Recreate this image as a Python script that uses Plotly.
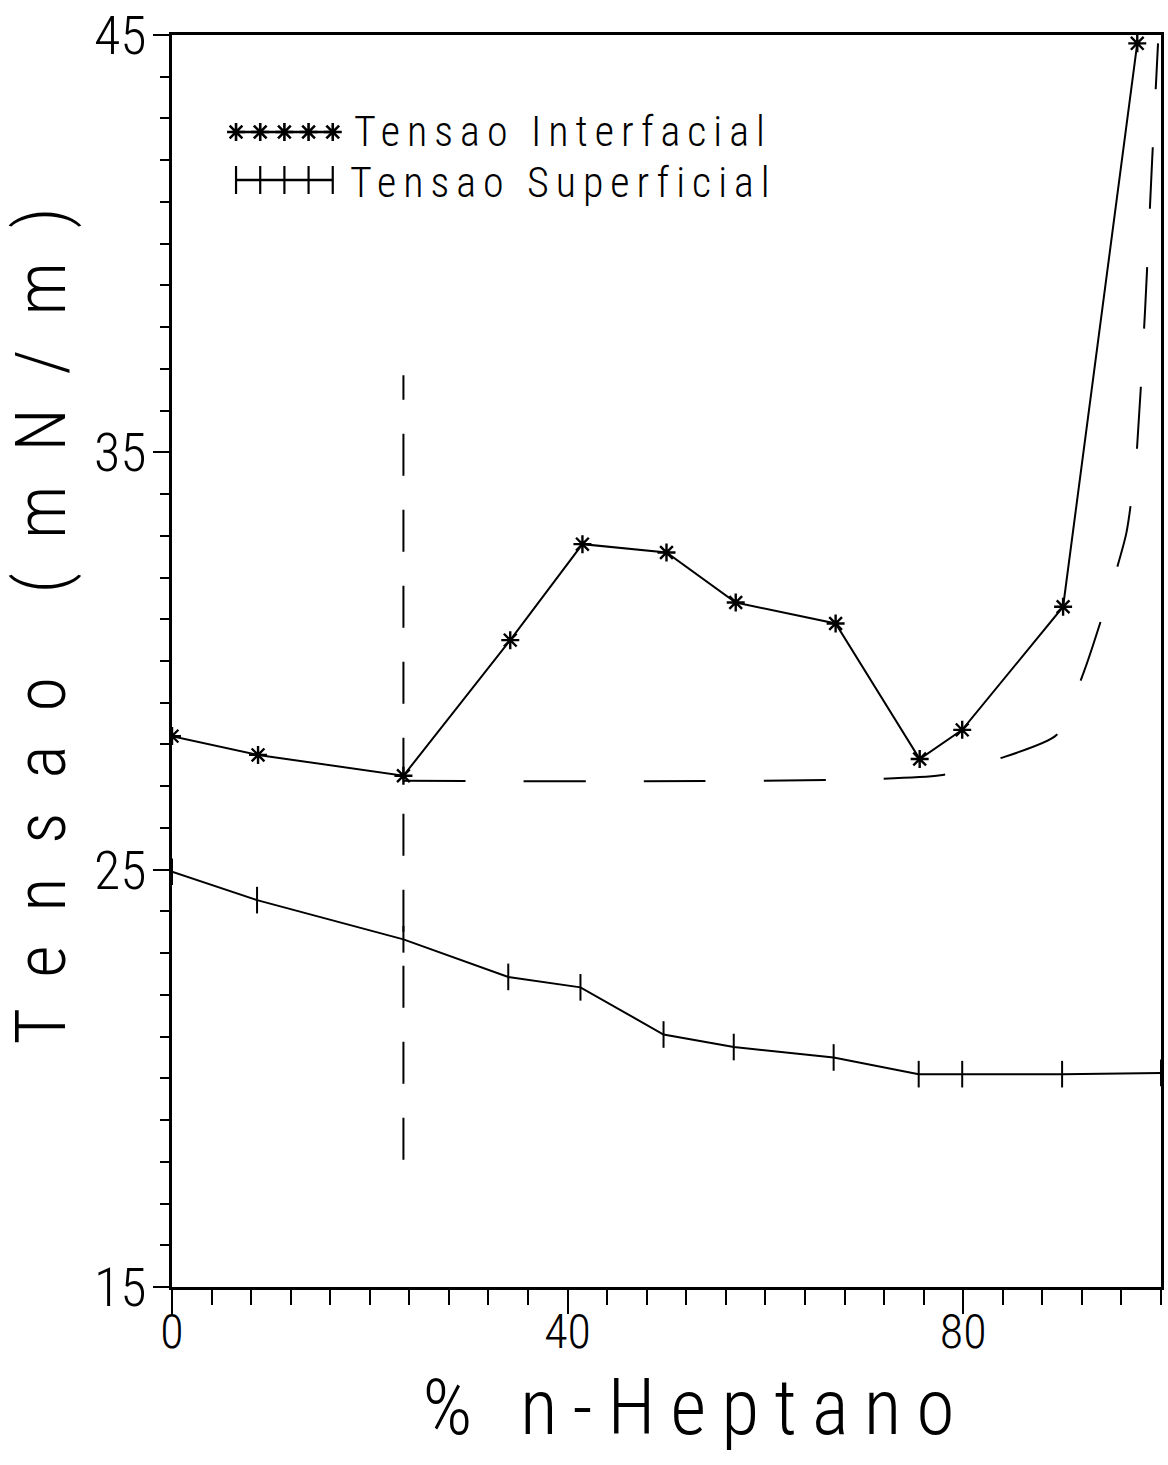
import plotly.graph_objects as go

# ---- data ----
heptano_interf = [0, 8.7, 23.4, 34.2, 41.5, 50.0, 57.0, 67.1, 75.6, 79.9, 90.1, 97.6]
tensao_interf = [28.2, 27.75, 27.25, 30.5, 32.8, 32.6, 31.4, 30.9, 27.65, 28.35, 31.3, 44.8]

heptano_sup = [0, 8.6, 23.4, 34.0, 41.3, 49.7, 56.8, 66.9, 75.5, 79.9, 90.0, 100]
tensao_sup = [24.95, 24.27, 23.33, 22.43, 22.18, 21.05, 20.75, 20.5, 20.1, 20.1, 20.1, 20.13]

# dashed guide curve
heptano_guide = [23.4, 77.7, 83.5, 89.4, 92.2, 94.5, 96.5, 97.5, 98.4, 99.1, 99.7]
tensao_guide = [27.13, 27.26, 27.65, 28.22, 29.74, 31.4, 33.07, 34.89, 38.46, 41.98, 44.8]

# dashed vertical marker line
heptano_vline = [23.4, 23.4]
tensao_vline = [18.05, 36.85]

x_ticks = [0, 40, 80]
y_ticks = [15, 25, 35, 45]

legend_names = ["Tensao Interfacial", "Tensao Superficial"]
x_title = "% n-Heptano"
y_title = "Tensao (mN/m)"

FONT = "Roboto Condensed, Liberation Sans Narrow, DejaVu Sans Condensed, DejaVu Sans"

fig = go.Figure()

fig.add_trace(go.Scatter(
    x=heptano_vline, y=tensao_vline, mode="lines",
    line=dict(color="black", width=2, dash="42px,34px"),
    showlegend=False, hoverinfo="skip"))
fig.add_trace(go.Scatter(
    x=heptano_guide, y=tensao_guide, mode="lines",
    line=dict(color="black", width=2, dash="62px,58px", shape="spline", smoothing=0.6),
    showlegend=False, hoverinfo="skip"))
fig.add_trace(go.Scatter(
    x=heptano_interf, y=tensao_interf, mode="lines+markers", name=legend_names[0],
    line=dict(color="black", width=2),
    marker=dict(symbol="asterisk-open", size=15, line=dict(color="black", width=2.4)),
    showlegend=False))
fig.add_trace(go.Scatter(
    x=heptano_sup, y=tensao_sup, mode="lines+markers", name=legend_names[1],
    line=dict(color="black", width=2),
    marker=dict(symbol="line-ns-open", size=19, line=dict(color="black", width=2)),
    showlegend=False))

# custom legend samples (five markers per row) on a hidden helper axis
sample_pos = list(range(5))
fig.add_trace(go.Scatter(
    x=sample_pos, y=[1] * 5, xaxis="x2", yaxis="y2", mode="lines+markers",
    line=dict(color="black", width=2.5), cliponaxis=False,
    marker=dict(symbol="asterisk-open", size=15, line=dict(color="black", width=2.6)),
    showlegend=False, hoverinfo="skip"))
fig.add_trace(go.Scatter(
    x=sample_pos, y=[0] * 5, xaxis="x2", yaxis="y2", mode="lines+markers",
    line=dict(color="black", width=2.5), cliponaxis=False,
    marker=dict(symbol="line-ns-open", size=20, line=dict(color="black", width=2.2)),
    showlegend=False, hoverinfo="skip"))

L, R, T, B = 172, 7, 35, 178
W, H = 1168, 1465
pw, ph = W - L - R, H - T - B

def px_x(p):
    return (p - L) / pw

def px_y(p):
    return (H - B - p) / ph

fig.update_layout(
    width=W, height=H,
    margin=dict(l=L, r=R, t=T, b=B, autoexpand=False),
    paper_bgcolor="white", plot_bgcolor="white",
    font=dict(family=FONT, color="black", weight=300),
    xaxis=dict(
        range=[0, 100], tickvals=x_ticks, ticks="outside", ticklen=24, tickwidth=2,
        tickcolor="black", showline=True, linecolor="black", linewidth=2.5, mirror=True,
        showgrid=False, zeroline=False,
        minor=dict(dtick=4, tick0=0, ticks="outside", ticklen=15, tickwidth=2, tickcolor="black", showgrid=False),
        tickfont=dict(family=FONT, size=48, weight=300),
        title=dict(text=x_title, font=dict(family=FONT, size=78, weight=300), standoff=10),
    ),
    yaxis=dict(
        range=[15, 45], tickvals=y_ticks, ticks="outside", ticklen=16, tickwidth=2,
        tickcolor="black", showline=True, linecolor="black", linewidth=2.5, mirror=True,
        showgrid=False, zeroline=False,
        minor=dict(dtick=1, tick0=15, ticks="outside", ticklen=9, tickwidth=2, tickcolor="black", showgrid=False),
        tickfont=dict(family=FONT, size=54, weight=300),
        title=dict(text=y_title, font=dict(family=FONT, size=70, weight=300), standoff=20),
    ),
    xaxis2=dict(domain=[px_x(230), px_x(340)], range=[-0.25, 4.3], visible=False, anchor="y2", fixedrange=True),
    yaxis2=dict(domain=[px_y(204), px_y(108)], range=[-0.5, 1.5], visible=False, anchor="x2", fixedrange=True),
    annotations=[
        dict(text=legend_names[0], x=px_x(563), y=px_y(132), xref="paper", yref="paper",
             xanchor="center", yanchor="middle", showarrow=False,
             font=dict(family=FONT, size=42, weight=300)),
        dict(text=legend_names[1], x=px_x(563), y=px_y(182), xref="paper", yref="paper",
             xanchor="center", yanchor="middle", showarrow=False,
             font=dict(family=FONT, size=42, weight=300)),
    ],
)

try:
    fig.update_layout(xaxis_ticklabelstandoff=-23, yaxis_ticklabelstandoff=-4)
except Exception:
    pass

post = """
var gd = document.getElementById('{plot_id}');
function sp(sel, v){ gd.querySelectorAll(sel).forEach(function(t){ t.style.letterSpacing = v; }); }
function shift(el, dx, dy){ el.setAttribute('transform', 'translate(' + dx + ',' + dy + ') ' + (el.getAttribute('transform') || '')); }
sp('.annotation-text', '7px');
var yt = gd.querySelector('.ytitle');
if (yt) { yt.style.letterSpacing = '34px'; var r = yt.getBoundingClientRect(); shift(yt, 0, 617 - (r.top + r.bottom) / 2); }
var xt = gd.querySelector('.xtitle');
if (xt) {
  xt.style.letterSpacing = '15px';
  var maxB = 0;
  gd.querySelectorAll('.xtick text').forEach(function(t){ var b = t.getBoundingClientRect().bottom; if (b > maxB) maxB = b; });
  var r2 = xt.getBoundingClientRect();
  var h = r2.bottom - r2.top;
  var top = Math.min(Math.max(1366, maxB + 2), 1464 - h);
  shift(xt, 704 - (r2.left + r2.right) / 2, top - r2.top);
}
"""

fig.write_html("out.html", post_script=post)
